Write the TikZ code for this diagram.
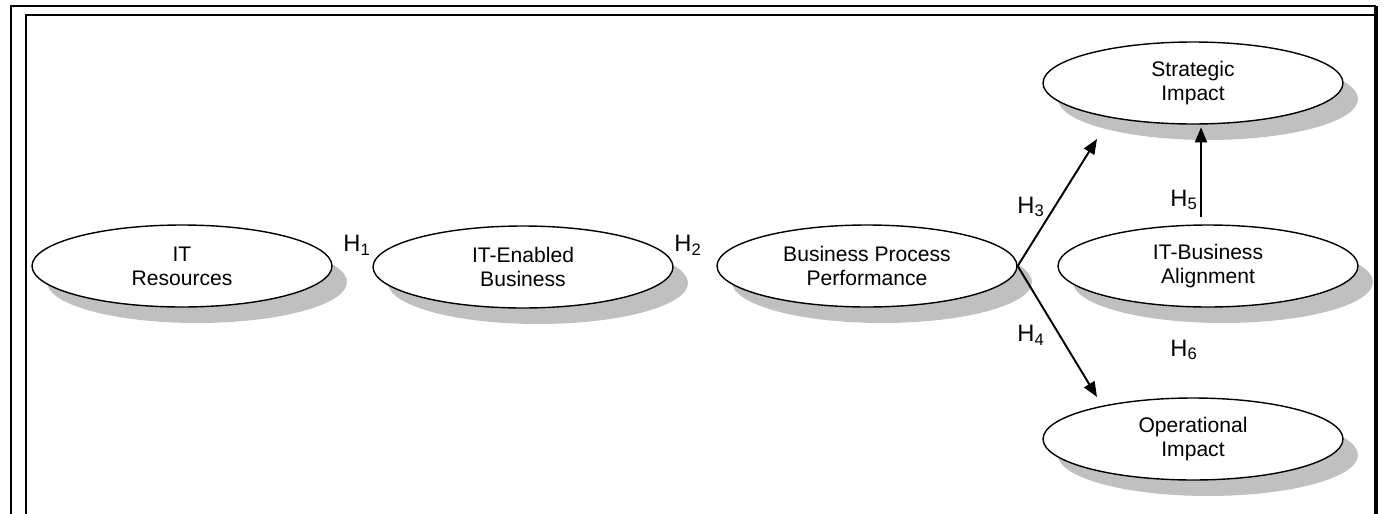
\documentclass[tikz,border=0pt]{standalone}
\usepackage{xcolor}
\usepackage{fontspec}
\setmainfont{Liberation Sans}
\usepackage{tikz}
\usetikzlibrary{shapes.geometric,shadows,arrows.meta}
\definecolor{shade}{RGB}{192,192,192}

\begin{document}
\begin{tikzpicture}[
    x=0.02cm, y=-0.02cm,
    every node/.style={font=\fontsize{12}{13.7}\selectfont},
    construct/.style={draw, thick, ellipse, fill=white, minimum width=6cm, minimum height=1.64cm,
        inner sep=0pt, align=center,
        drop shadow={shadow xshift=0.3cm, shadow yshift=-0.32cm, fill=shade, opacity=1}},
    hyp/.style={font=\fontsize{13.5}{15}\selectfont, inner sep=0pt},
    link/.style={line width=1.1pt, -{Triangle[length=0.3cm, width=0.24cm]}}
]
\useasboundingbox (0,0) rectangle (1387,514);
% frame
\draw[line width=1.1pt] (11,514) |- (1376,6);
\draw[line width=1.1pt] (26,514) |- (1376,15);
\draw[line width=2.8pt] (1376,6) -- (1376,514);

\node[construct] (res) at (182,266) {IT\\Resources};
\node[construct] (enab) at (523,267) {IT-Enabled\\Business};
\node[construct] (perf) at (867,266) {Business Process\\Performance};
\node[construct] (strat) at (1193,83) {Strategic\\Impact};
\node[construct] (align) at (1208,266) {IT-Business\\Alignment};
\node[construct] (oper) at (1193,439) {Operational\\Impact};

\node[hyp] (h1) at (357,245) {H\textsubscript{1}};
\node[hyp] (h2) at (688,245) {H\textsubscript{2}};
\node[hyp] (h3) at (1031,207) {H\textsubscript{3}};
\node[hyp] (h4) at (1031,335) {H\textsubscript{4}};
\node[hyp] (h5) at (1184,200) {H\textsubscript{5}};
\node[hyp] (h6) at (1184,350) {H\textsubscript{6}};

\coordinate (s3) at (1097,139);
\coordinate (o4) at (1097,397);
\draw[link] (perf.east) -- (s3);
\draw[link] (perf.east) -- (o4);
\draw[link] ([xshift=-0.14cm,yshift=0.14cm]align.north) -- ++(0,-90);
\end{tikzpicture}
\end{document}
